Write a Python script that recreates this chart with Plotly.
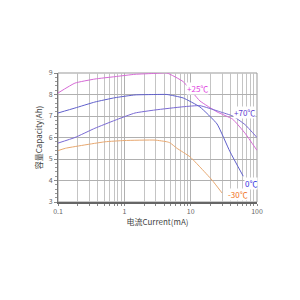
import numpy as np
import plotly.graph_objects as go

# Data
x_25 = [0.1, 0.18, 0.36, 0.72, 1.45, 2.9, 4.4, 7.7, 13.8, 25, 43, 66, 100]
c_25 = [8.07, 8.53, 8.72, 8.83, 8.94, 8.98, 9.0, 8.6, 7.7, 7.19, 6.85, 6.2, 5.4]

x_0 = [0.1, 0.18, 0.36, 0.72, 1.45, 2.9, 4.4, 7.7, 13.8, 25, 39, 62]
c_0 = [7.14, 7.37, 7.65, 7.85, 7.98, 8.0, 8.0, 7.84, 7.42, 6.63, 5.35, 4.2]

x_70 = [0.1, 0.18, 0.36, 0.72, 1.45, 2.9, 7.7, 13.8, 27.5, 43, 66, 100]
c_70 = [5.74, 6.0, 6.43, 6.8, 7.14, 7.28, 7.43, 7.48, 7.2, 7.0, 6.6, 6.0]

x_m30 = [0.1, 0.13, 0.51, 1.0, 2.9, 4.4, 4.9, 6.2, 9.8, 13.8, 21, 29.7]
c_m30 = [5.39, 5.5, 5.8, 5.86, 5.88, 5.8, 5.75, 5.5, 5.1, 4.63, 4.02, 3.42]

labels = ["+25℃", "+70℃", "0℃", "-30℃"]
label_x = [12.5, 64, 80, 52]
label_y = [8.3, 7.14, 3.88, 3.33]

line_colors = ["#d66ad6", "#7a6ad4", "#6060cc", "#e8a870"]
text_colors = ["#e040e0", "#6040d0", "#3030e0", "#f07020"]

fig = go.Figure()
for xs, ys, col in [(x_25, c_25, line_colors[0]), (x_70, c_70, line_colors[1]),
                    (x_0, c_0, line_colors[2]), (x_m30, c_m30, line_colors[3])]:
    fig.add_trace(go.Scatter(x=xs, y=ys, mode="lines",
                             line=dict(color=col, width=1, shape="spline", smoothing=0.4),
                             showlegend=False, hoverinfo="skip"))

for t, lx, ly, tc in zip(labels, label_x, label_y, text_colors):
    fig.add_annotation(x=np.log10(lx), y=ly, text=t, showarrow=False,
                       font=dict(size=8, color=tc, family="Noto Sans CJK SC"),
                       bgcolor="white", borderpad=0)

fig.update_layout(
    width=300, height=300,
    margin=dict(l=58, r=43, t=73, b=98),
    paper_bgcolor="white", plot_bgcolor="white",
    font=dict(family="Noto Sans CJK SC", size=7, color="#555"),
)
fig.update_xaxes(
    type="log", range=[-1, 2], dtick=1,
    showgrid=True, gridcolor="#b0b0b0", gridwidth=1,
    minor=dict(dtick="D1", showgrid=True, gridcolor="#c4c4c4", gridwidth=1,
               ticks="outside", ticklen=2, tickcolor="#888"),
    showline=True, linecolor="#666", linewidth=2, mirror=False,
    ticks="outside", ticklen=2, tickcolor="#888",
    tickfont=dict(size=7, color="#666"),
    title=dict(text="电流Current(mA)", font=dict(size=8, color="#444"), standoff=0),
    zeroline=False,
)
fig.update_yaxes(
    range=[3, 9], dtick=1,
    showgrid=True, gridcolor="#b0b0b0", gridwidth=1,
    minor=dict(dtick=0.2, ticks="outside", ticklen=2, tickcolor="#999"),
    showline=True, linecolor="#777", linewidth=1,
    ticks="outside", ticklen=3, tickcolor="#888",
    tickfont=dict(size=7, color="#666"),
    title=dict(text="容量Capacity(Ah)", font=dict(size=8, color="#444"), standoff=4),
    zeroline=False,
)
# frame on top/right
fig.add_shape(type="rect", xref="paper", yref="paper", x0=0, y0=0, x1=1, y1=1,
              line=dict(color="#999", width=1), layer="below")

fig.write_html("out.html")
